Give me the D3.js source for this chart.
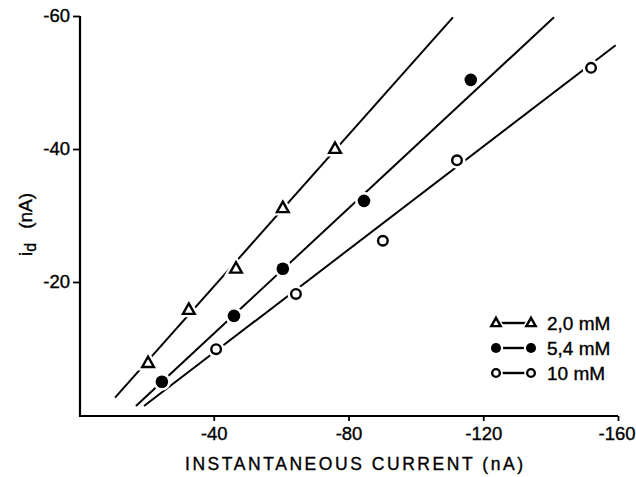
<!DOCTYPE html>
<html>
<head>
<meta charset="utf-8">
<script src="https://cdn.jsdelivr.net/npm/d3@7"></script>
<style>
  html, body { margin: 0; padding: 0; background: #fff; }
  svg { display: block; }
  text { font-family: "Liberation Sans", "DejaVu Sans", sans-serif; fill: #000; stroke: #000; stroke-width: 0.35px; }
</style>
</head>
<body>
<svg id="chart" width="636" height="477"></svg>
<script>
// ---- data (nA) ----
const xTicks = [-40, -80, -120, -160];
const yTicks = [-20, -40, -60];

const seriesNames = ["2,0 mM", "5,4 mM", "10 mM"];
const seriesSymbols = ["triangle", "filled", "open"];

const tri_x = [-20.5, -32.6, -46.6, -60.5, -76.0];
const tri_y = [-7.8, -15.8, -22.0, -31.1, -40.0];
const tri_fit = [[-10.7, -2.6], [-111.0, -59.8]];

const fil_x = [-24.6, -46.0, -60.5, -84.6, -116.3];
const fil_y = [-5.0, -14.9, -22.0, -32.2, -50.4];
const fil_fit = [[-16.9, -1.35], [-141.0, -59.8]];

const opn_x = [-40.7, -64.4, -90.2, -112.2, -152.0];
const opn_y = [-9.9, -18.2, -26.2, -38.3, -52.2];
const opn_fit = [[-19.3, -1.35], [-159.3, -55.6]];

// ---- layout ----
const svg = d3.select("#chart");
const x = d3.scaleLinear().domain([0, -160]).range([79, 618]);
const y = d3.scaleLinear().domain([0, -60]).range([415, 16]);

const series = [
  {name: seriesNames[0], sym: seriesSymbols[0], xs: tri_x, ys: tri_y, fit: tri_fit},
  {name: seriesNames[1], sym: seriesSymbols[1], xs: fil_x, ys: fil_y, fit: fil_fit},
  {name: seriesNames[2], sym: seriesSymbols[2], xs: opn_x, ys: opn_y, fit: opn_fit}
];

const FONT = "'Liberation Sans', 'DejaVu Sans', sans-serif";

// axes
const xAxis = d3.axisBottom(x).tickValues(xTicks).tickSize(5).tickSizeOuter(0)
  .tickPadding(6).tickFormat(d => "-" + Math.abs(d));
const yAxis = d3.axisLeft(y).tickValues(yTicks).tickSize(7).tickSizeOuter(0)
  .tickPadding(3).tickFormat(d => "-" + Math.abs(d));

const gx = svg.append("g").attr("transform", "translate(0,416)").call(xAxis);
const gy = svg.append("g").attr("transform", "translate(80,0)").call(yAxis);
[gx, gy].forEach(g => {
  g.select(".domain").remove();
  g.selectAll(".tick line").attr("stroke", "#000").attr("stroke-width", 1.8);
  g.selectAll(".tick text").attr("font-size", 18.5).attr("fill", "#000")
    .attr("font-family", FONT);
});
// keep the last x label inside the picture
gx.selectAll(".tick text").filter(d => d === -160).attr("dx", -1.5);

// axis lines
svg.append("line").attr("x1", x(0)).attr("x2", x(-160)).attr("y1", 416).attr("y2", 416)
  .attr("stroke", "#000").attr("stroke-width", 2.2);
svg.append("line").attr("x1", 80).attr("x2", 80).attr("y1", y(-60)).attr("y2", 417)
  .attr("stroke", "#000").attr("stroke-width", 2.2);

// axis titles
svg.append("text").attr("x", 354).attr("y", 470).attr("text-anchor", "middle")
  .attr("font-size", 17.5).attr("textLength", 338).attr("lengthAdjust", "spacing")
  .text("INSTANTANEOUS CURRENT (nA)");
const yl = svg.append("text").attr("transform", "translate(32,256) rotate(-90)")
  .attr("font-size", 19);
yl.append("tspan").text("i");
yl.append("tspan").attr("font-size", 16).attr("dy", 4).text("d");
yl.append("tspan").attr("dy", -4).attr("dx", 14).text("(nA)");

// fit lines
const plot = svg.append("g");
series.forEach(s => {
  plot.append("line")
    .attr("x1", x(s.fit[0][0])).attr("y1", y(s.fit[0][1]))
    .attr("x2", x(s.fit[1][0])).attr("y2", y(s.fit[1][1]))
    .attr("stroke", "#000").attr("stroke-width", 2);
});

function drawMarker(g, sym, cx, cy, scale) {
  const k = scale || 1;
  if (sym === "triangle") {
    const r = 6.5 * k;
    const pts = [[cx, cy - r], [cx + r * 0.9, cy + r * 0.6], [cx - r * 0.9, cy + r * 0.6]];
    g.append("polygon").attr("points", pts.map(p => p.join(",")).join(" "))
      .attr("fill", "#fff").attr("stroke", "#fff").attr("stroke-width", 7 * k);
    g.append("polygon").attr("points", pts.map(p => p.join(",")).join(" "))
      .attr("fill", "#fff").attr("stroke", "#000").attr("stroke-width", 2.4)
      .attr("stroke-linejoin", "miter");
  } else if (sym === "filled") {
    g.append("circle").attr("cx", cx).attr("cy", cy).attr("r", 9 * k).attr("fill", "#fff");
    g.append("circle").attr("cx", cx).attr("cy", cy).attr("r", 6.3 * k).attr("fill", "#000");
  } else {
    g.append("circle").attr("cx", cx).attr("cy", cy).attr("r", 8.5 * k).attr("fill", "#fff");
    g.append("circle").attr("cx", cx).attr("cy", cy).attr("r", 4.8 * k)
      .attr("fill", "#fff").attr("stroke", "#000").attr("stroke-width", 2.4);
  }
}

// markers
series.forEach(s => {
  const g = plot.append("g");
  s.xs.forEach((xv, i) => drawMarker(g, s.sym, x(xv), y(s.ys[i]), 1));
});

// legend
const legend = svg.append("g");
const legY = [323, 348, 373];
series.forEach((s, i) => {
  const ly = legY[i];
  legend.append("line").attr("x1", 500).attr("x2", 528).attr("y1", ly).attr("y2", ly)
    .attr("stroke", "#000").attr("stroke-width", 2.4);
  const g = legend.append("g");
  drawMarker(g, s.sym, 496, ly, 0.8);
  drawMarker(g, s.sym, 531, ly, 0.8);
  legend.append("text").attr("x", 547).attr("y", ly + 7).attr("font-size", 19)
    .text(s.name);
});
</script>
</body>
</html>
